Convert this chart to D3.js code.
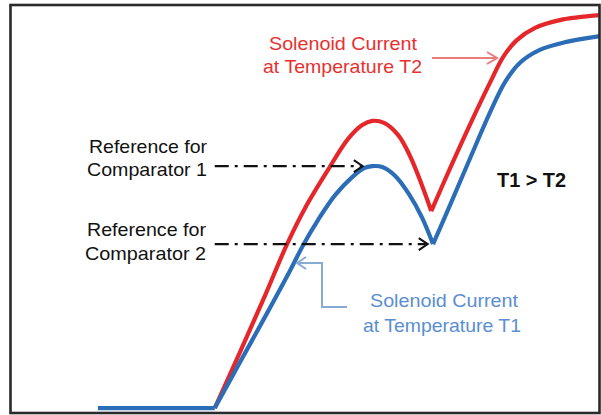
<!DOCTYPE html>
<html><head><meta charset="utf-8">
<script src="https://cdn.jsdelivr.net/npm/d3@7"></script>
<style>html,body{margin:0;padding:0;background:#fff;} svg{display:block;font-family:"Liberation Sans",Arial,Helvetica,sans-serif;}</style>
</head><body><svg id="chart" width="601" height="415"></svg>
<script>
// Data (time and current in arbitrary %-of-axis units)
const timeT1 = [14.9,34.7,39.0,43.2,47.5,49.7,52.2,55.1,58.0,60.0,61.4,63.1,65.3,67.6,69.8,71.7,74.6,78.0,81.4,83.9,86.4,89.8,94.1,100];
const currentT1 = [1.2,1.2,12.5,23.5,35.0,41.2,47.3,53.4,57.8,60.0,60.5,60.3,58.1,53.7,48.0,41.4,51.0,62.5,73.8,81.1,85.8,89.0,90.9,92.4];
const cornersT1 = [1, 15];
const timeT2 = [34.7,39.0,43.2,46.9,50.0,53.9,57.3,59.7,61.4,63.4,65.8,67.8,69.8,71.4,74.6,78.0,81.4,83.6,85.9,89.0,93.2,100];
const currentT2 = [1.2,15.0,28.7,41.2,50.2,59.6,67.2,70.6,71.6,71.1,68.1,63.0,55.9,49.5,60.0,70.8,81.1,87.3,91.4,94.4,96.3,97.5];
const cornersT2 = [13];
const refLevels = [60.5, 41.4];
const refStart = 34.7;
const refEnd = [59.8, 70.8];
const refLabels = [["Reference for","Comparator 1"],["Reference for","Comparator 2"]];
const labelT2 = ["Solenoid Current","at Temperature T2"];
const labelT1 = ["Solenoid Current","at Temperature T1"];
const relationLabel = "T1 > T2";

const svg = d3.select("#chart");
const x = d3.scaleLinear([0,100],[10,600]);
const y = d3.scaleLinear([0,100],[413,5]);

svg.append("defs").append("clipPath").attr("id","plot")
  .append("rect").attr("x",10).attr("y",5).attr("width",590).attr("height",408);

const RED = "#e5272c", BLUE = "#2b6db6";

function segments(ts, cs, corners){
  const pts = ts.map((t,i)=>[t,cs[i]]);
  const cuts = [0, ...corners, pts.length-1];
  const out = [];
  for (let k=0;k<cuts.length-1;k++) out.push(pts.slice(cuts[k], cuts[k+1]+1));
  return out;
}
const line = d3.line().x(d=>x(d[0])).y(d=>y(d[1])).curve(d3.curveCatmullRom.alpha(0.5));

const g = svg.append("g").attr("clip-path","url(#plot)");
function drawCurve(ts, cs, corners, color){
  const segs = segments(ts, cs, corners);
  const pathD = segs.map(s=>line(s)).join("");
  g.append("path").attr("d", pathD).attr("fill","none").attr("stroke",color)
    .attr("stroke-width",4.2).attr("stroke-linejoin","round").attr("stroke-linecap","butt");
}
drawCurve(timeT2, currentT2, cornersT2, RED);
drawCurve(timeT1, currentT1, cornersT1, BLUE);

// Reference dash-dot lines with open arrowheads
refLevels.forEach((lv,i)=>{
  const yy = y(lv), x0 = x(refStart), x1 = x(refEnd[i]);
  svg.append("line").attr("x1",x0).attr("x2",x1-2).attr("y1",yy).attr("y2",yy)
    .attr("stroke","#111").attr("stroke-width",2.4).attr("stroke-dasharray","14,6,3,6");
  svg.append("path").attr("d",`M${x1-9},${yy-6}L${x1},${yy}L${x1-9},${yy+6}`)
    .attr("fill","none").attr("stroke","#111").attr("stroke-width",2);
});

// Left labels
const leftLabelPos = [[[89,153,118],[87,176,120]],[[87,236,119],[85,260,121]]];
refLabels.forEach((lines,i)=>{
  lines.forEach((t,j)=>{
    const p = leftLabelPos[i][j];
    svg.append("text").attr("x",p[0]).attr("y",p[1]).attr("font-size",18.5)
      .attr("fill","#111").attr("textLength",p[2]).attr("lengthAdjust","spacingAndGlyphs").text(t);
  });
});

// Red label and arrow
const redPos = [[269,50,148],[263,73,159]];
labelT2.forEach((t,j)=>{
  svg.append("text").attr("x",redPos[j][0]).attr("y",redPos[j][1]).attr("font-size",18.5)
    .attr("fill","#e8302f").attr("textLength",redPos[j][2]).attr("lengthAdjust","spacingAndGlyphs").text(t);
});
svg.append("path").attr("d","M432,58L497,58M487,52L497,58L487,64")
  .attr("fill","none").attr("stroke","#ea7c7c").attr("stroke-width",2);

// Blue label and callout
const bluePos = [[370,307,148],[363,332,158]];
labelT1.forEach((t,j)=>{
  svg.append("text").attr("x",bluePos[j][0]).attr("y",bluePos[j][1]).attr("font-size",18.5)
    .attr("fill","#5a8ed2").attr("textLength",bluePos[j][2]).attr("lengthAdjust","spacingAndGlyphs").text(t);
});
svg.append("path").attr("d","M347,307L322,307L322,263L297,263M306,257L297,263L306,269")
  .attr("fill","none").attr("stroke","#86acd5").attr("stroke-width",2);

// Relation label
svg.append("text").attr("x",497).attr("y",187).attr("font-size",19.5).attr("font-weight","bold")
  .attr("fill","#111").attr("textLength",69).attr("lengthAdjust","spacingAndGlyphs").text(relationLabel);

// Frame
svg.append("rect").attr("x",10.5).attr("y",5).attr("width",589).attr("height",408)
  .attr("fill","none").attr("stroke","#2a2a2a").attr("stroke-width",2.6);
</script></body></html>
